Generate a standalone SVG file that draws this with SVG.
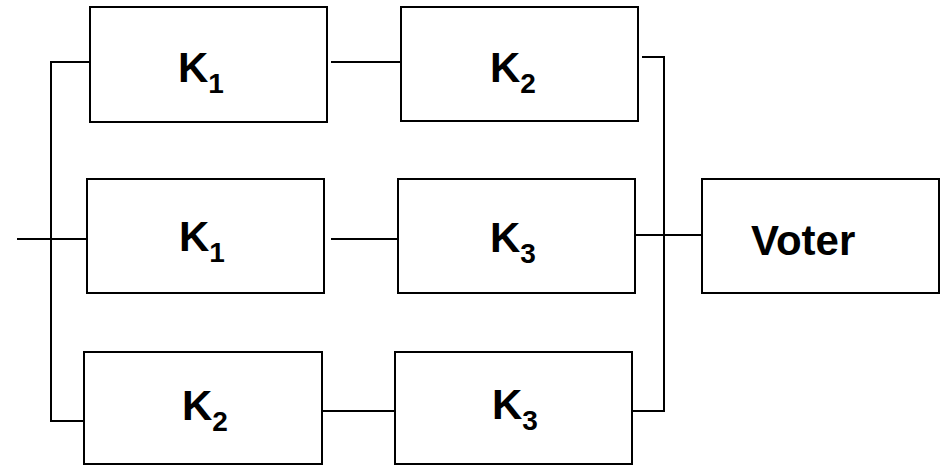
<svg xmlns="http://www.w3.org/2000/svg" width="943" height="466" viewBox="0 0 943 466">
<style>
.box{fill:#fff;stroke:#000;stroke-width:2}
.ln{fill:none;stroke:#000;stroke-width:2}
.t{font-family:"Liberation Sans",Arial,sans-serif;font-weight:bold;font-size:42px;fill:#000}
.s{font-size:28px}
</style>
<rect width="943" height="466" fill="#fff"/>
<g id="connectors">
<line class="ln" x1="17" y1="239" x2="87" y2="239"/>
<polyline class="ln" points="90,62 51,62 51,421 84,421"/>
<line class="ln" x1="331" y1="62" x2="401" y2="62"/>
<line class="ln" x1="331" y1="239" x2="398" y2="239"/>
<line class="ln" x1="322" y1="411" x2="395" y2="411"/>
<polyline class="ln" points="642,57 664,57 664,411 632,411"/>
<line class="ln" x1="635" y1="235" x2="702" y2="235"/>
</g>
<g id="k1_top">
<rect class="box" x="90" y="7" width="237" height="115"/>
<text class="t" x="178" y="82">K<tspan class="s" dy="11">1</tspan></text>
</g>
<g id="k2_top">
<rect class="box" x="401" y="7" width="237" height="114"/>
<text class="t" x="490" y="82">K<tspan class="s" dy="11">2</tspan></text>
</g>
<g id="k1_mid">
<rect class="box" x="87" y="179" width="237" height="114"/>
<text class="t" x="179" y="251">K<tspan class="s" dy="11">1</tspan></text>
</g>
<g id="k3_mid">
<rect class="box" x="398" y="179" width="237" height="114"/>
<text class="t" x="490" y="252">K<tspan class="s" dy="11">3</tspan></text>
</g>
<g id="k2_bot">
<rect class="box" x="84" y="352" width="238" height="112"/>
<text class="t" x="182" y="420">K<tspan class="s" dy="11">2</tspan></text>
</g>
<g id="k3_bot">
<rect class="box" x="395" y="352" width="237" height="112"/>
<text class="t" x="492" y="419">K<tspan class="s" dy="11">3</tspan></text>
</g>
<g id="voter">
<rect class="box" x="702" y="179" width="237" height="114"/>
<text class="t" x="751" y="255">Voter</text>
</g>
</svg>
